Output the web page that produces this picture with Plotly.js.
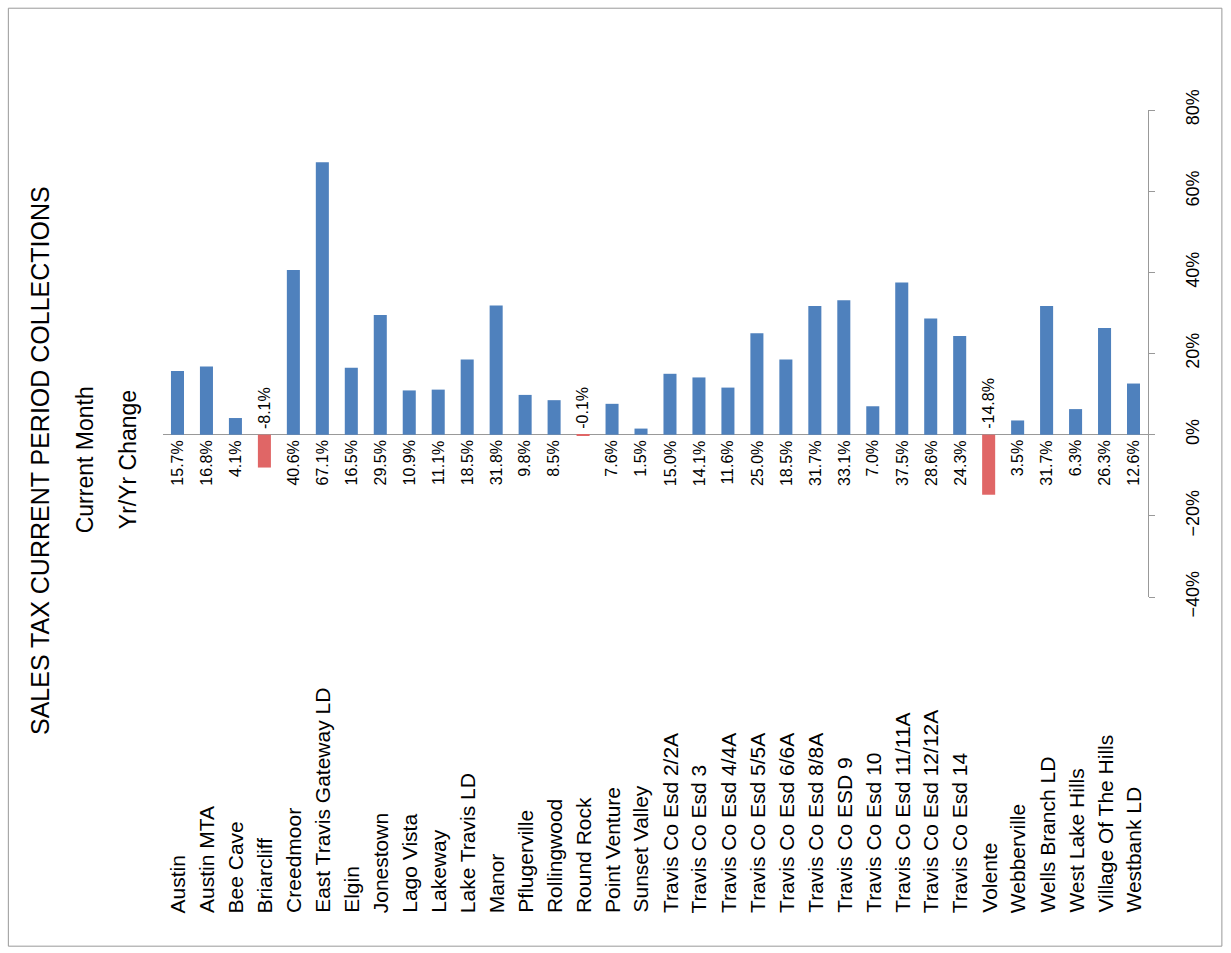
<!DOCTYPE html>
<html>
<head>
<meta charset="utf-8">
<script src="https://cdn.plot.ly/plotly-3.0.1.min.js"></script>
<style>body{margin:0;background:#fff}</style>
</head>
<body>
<div id="chart" style="width:1231px;height:953px"></div>
<script>
var cities = ["Austin","Austin MTA","Bee Cave","Briarcliff","Creedmoor","East Travis Gateway LD","Elgin","Jonestown","Lago Vista","Lakeway","Lake Travis LD","Manor","Pflugerville","Rollingwood","Round Rock","Point Venture","Sunset Valley","Travis Co Esd 2/2A","Travis Co Esd 3","Travis Co Esd 4/4A","Travis Co Esd 5/5A","Travis Co Esd 6/6A","Travis Co Esd 8/8A","Travis Co ESD 9","Travis Co Esd 10","Travis Co Esd 11/11A","Travis Co Esd 12/12A","Travis Co Esd 14","Volente","Webberville","Wells Branch LD","West Lake Hills","Village Of The Hills","Westbank LD"];
var change = [15.7,16.8,4.1,-8.1,40.6,67.1,16.5,29.5,10.9,11.1,18.5,31.8,9.8,8.5,-0.1,7.6,1.5,15.0,14.1,11.6,25.0,18.5,31.7,33.1,7.0,37.5,28.6,24.3,-14.8,3.5,31.7,6.3,26.3,12.6];

var font = "Liberation Sans, Arial, sans-serif";
var idx = cities.map(function(c, i){ return i; });

var anns = [];
cities.forEach(function(c, i){
  anns.push({x: i, xref: 'x', y: -0.653, yref: 'paper', text: c, textangle: -90,
    showarrow: false, xanchor: 'center', yanchor: 'bottom', font: {size: 21, color: '#000', family: font}});
  var v = change[i];
  anns.push({x: i, xref: 'x', y: 0, yref: 'y', text: v.toFixed(1) + '%', textangle: -90,
    showarrow: false, xanchor: 'center', yanchor: v >= 0 ? 'top' : 'bottom', yshift: v >= 0 ? -4 : 4,
    font: {size: 16, color: '#000', family: font}});
});
[["SALES TAX CURRENT PERIOD COLLECTIONS", -0.125, 25], ["Current Month", -0.079, 23], ["Yr/Yr Change", -0.0355, 23]].forEach(function(t){
  anns.push({x: t[1], xref: 'paper', y: 0.281, yref: 'paper', text: t[0], textangle: -90,
    showarrow: false, xanchor: 'center', yanchor: 'middle', font: {size: t[2], color: '#000', family: font}});
});

var trace = {
  x: idx, y: change, type: 'bar',
  marker: {color: change.map(function(v){ return v < 0 ? '#E06666' : '#4F81BD'; })},
  hoverinfo: 'none'
};

var layout = {
  width: 1231, height: 953,
  margin: {l: 163, r: 83, t: 110, b: 356},
  paper_bgcolor: '#fff', plot_bgcolor: '#fff',
  bargap: 0.55, showlegend: false,
  xaxis: {range: [-0.5, 33.5], showticklabels: false, showgrid: false, zeroline: false, showline: false, ticks: ''},
  yaxis: {side: 'right', range: [-40, 80], dtick: 20, ticksuffix: '%', tickangle: -90,
    showgrid: false, zeroline: true, zerolinecolor: '#999', zerolinewidth: 1,
    showline: true, linecolor: '#999', ticks: 'outside', ticklen: 6, tickcolor: '#999',
    ticklabelstandoff: 22,
    tickfont: {size: 18, color: '#000', family: font}},
  annotations: anns,
  shapes: [{type: 'rect', xref: 'paper', yref: 'paper', x0: -0.157, x1: 1.075, y0: -0.717, y1: 1.209,
    line: {color: '#999', width: 1}}]
};

Plotly.newPlot('chart', [trace], layout, {displayModeBar: false});
</script>
</body>
</html>
